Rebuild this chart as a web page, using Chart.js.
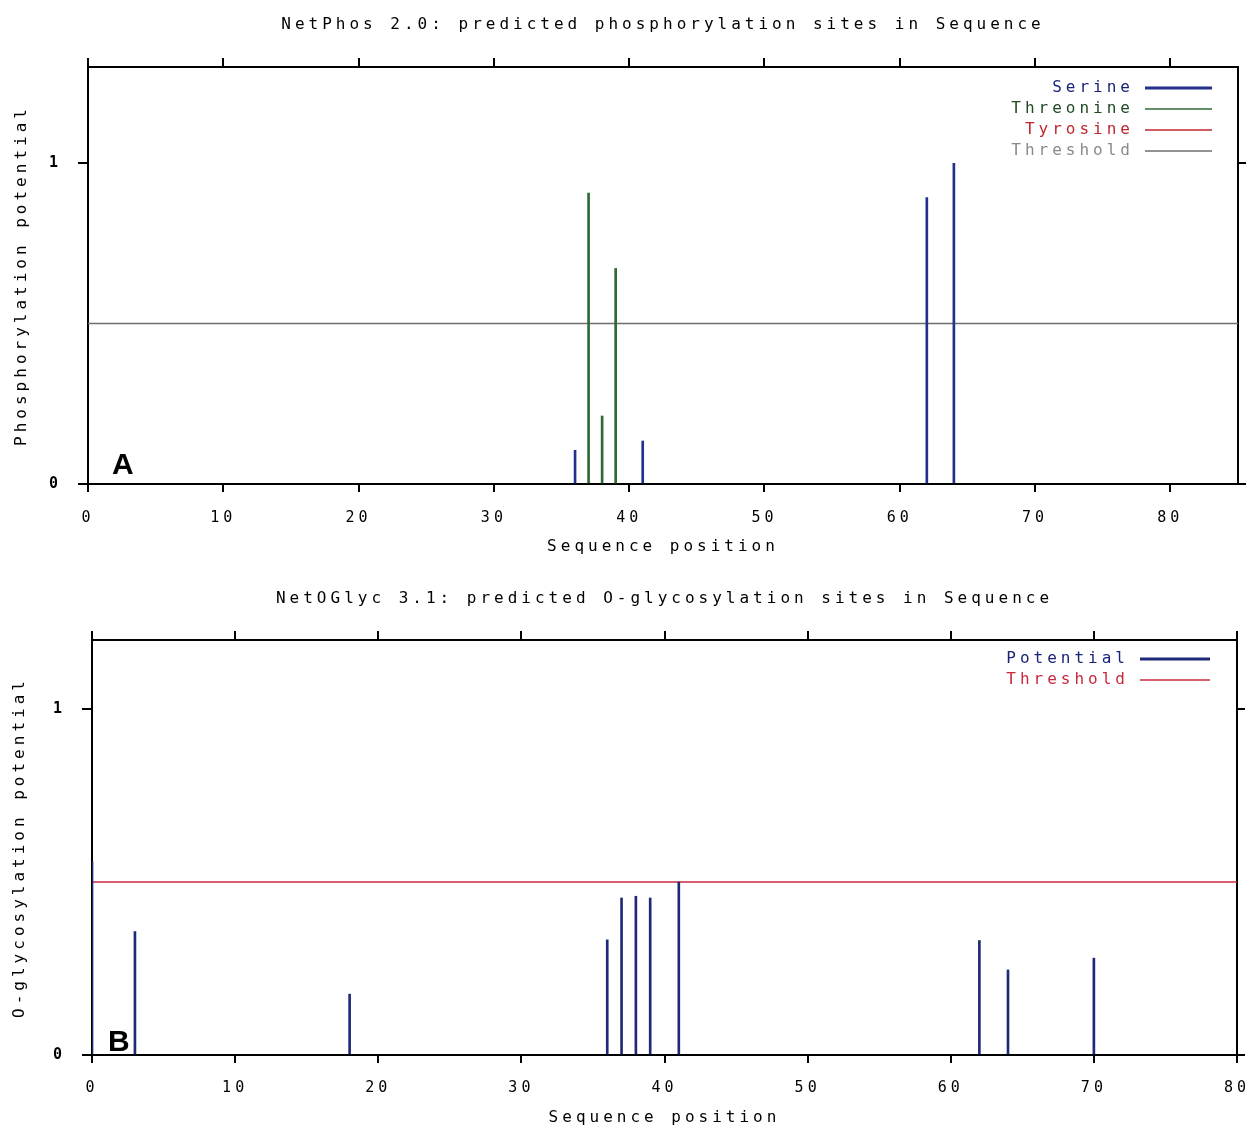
<!DOCTYPE html>
<html>
<head>
<meta charset="utf-8">
<title>NetPhos 2.0 / NetOGlyc 3.1</title>
<script src="https://cdn.jsdelivr.net/npm/chart.js@4.4.0/dist/chart.umd.min.js"></script>
<style>
  html, body { margin: 0; padding: 0; background: #fff; }
  .panel { position: relative; width: 1250px; }
</style>
</head>
<body>
<div class="panel" style="height:570px"><canvas id="phosChart"></canvas></div>
<div class="panel" style="height:559px"><canvas id="glycChart"></canvas></div>

<script>
const FONT = 'DejaVu Sans Mono';

// A - NetPhos 2.0
const phosTitle = 'NetPhos 2.0: predicted phosphorylation sites in Sequence';
const phosYTitle = 'Phosphorylation potential';
const serinePos = [36, 41, 62, 64];
const serineVal = [0.105, 0.134, 0.893, 1.0];
const threoninePos = [37, 38, 39];
const threonineVal = [0.907, 0.212, 0.672];
const tyrosinePos = [];
const tyrosineVal = [];
const phosThreshold = 0.5;
const phosLength = 85;
const phosXTicks = [0, 10, 20, 30, 40, 50, 60, 70, 80];
const phosYTicks = [0, 1];

// B - NetOGlyc 3.1
const glycTitle = 'NetOGlyc 3.1: predicted O-glycosylation sites in Sequence';
const glycYTitle = 'O-glycosylation potential';
const glycPos = [0, 3, 18, 36, 37, 38, 39, 41, 62, 64, 70];
const glycVal = [0.56, 0.357, 0.176, 0.333, 0.454, 0.459, 0.454, 0.5, 0.331, 0.246, 0.28];
const glycThreshold = 0.5;
const glycLength = 80;
const glycXTicks = [0, 10, 20, 30, 40, 50, 60, 70, 80];
const glycYTicks = [0, 1];

const xTitle = 'Sequence position';

function pts(pos, val) {
    return pos.map((p, i) => ({ x: p, y: val[i] }));
}

function sites(label, pos, val, color, lineW) {
    return {
        type: 'bar', label: label, data: pts(pos, val),
        backgroundColor: color, borderWidth: 0, barThickness: 2,
        grouped: false, order: 1, legendColor: color, legendWidth: lineW
    };
}

function threshold(label, value, len, color) {
    return {
        type: 'line', label: label, data: [{ x: 0, y: value }, { x: len, y: value }],
        borderColor: color, borderWidth: 1.5, pointRadius: 0, order: 2,
        legendColor: color, legendWidth: 1.5
    };
}

// the gnuplot-ish wide monospace look
const spacedText = {
    id: 'spacedText',
    beforeDraw(chart) {
        chart.ctx.letterSpacing = '4px';
    }
};

const sideLegend = {
    id: 'sideLegend',
    afterDraw(chart, args, opts) {
        const ctx = chart.ctx;
        const area = chart.chartArea;
        ctx.save();
        ctx.font = '16px ' + FONT;
        ctx.textAlign = 'right';
        ctx.textBaseline = 'middle';
        chart.data.datasets.forEach((ds, i) => {
            const y = area.top + opts.y0 + i * 21;
            ctx.fillStyle = opts.textColors[i];
            ctx.fillText(ds.label, area.right - opts.textRight, y);
            ctx.strokeStyle = ds.legendColor;
            ctx.lineWidth = ds.legendWidth;
            ctx.beginPath();
            ctx.moveTo(area.right - opts.lineFrom, y);
            ctx.lineTo(area.right - opts.lineTo, y);
            ctx.stroke();
        });
        ctx.restore();
    }
};

const panelTag = {
    id: 'panelTag',
    afterDraw(chart, args, opts) {
        const ctx = chart.ctx;
        ctx.save();
        ctx.letterSpacing = '0px';
        ctx.font = 'bold 30px "Liberation Sans"';
        ctx.fillStyle = '#000';
        ctx.textBaseline = 'alphabetic';
        ctx.fillText(opts.text, chart.chartArea.left + opts.dx, chart.chartArea.bottom - opts.dy);
        ctx.restore();
    }
};

function sitesChart(el, o) {
    const tickList = list => (s => { s.ticks = list.map(v => ({ value: v })); });
    const edge = { color: '#000', width: 2 };
    const marks = len => ({ drawOnChartArea: false, offset: false, color: '#000', lineWidth: 2, tickLength: len });
    return new Chart(el, {
        type: 'bar',
        data: { datasets: o.datasets },
        options: {
            responsive: true,
            maintainAspectRatio: false,
            animation: false,
            layout: { padding: 0 },
            plugins: {
                legend: { display: false },
                tooltip: { enabled: false },
                sideLegend: o.legend,
                panelTag: o.tag
            },
            scales: {
                x: {
                    type: 'linear', position: 'bottom', min: 0, max: o.xMax, offset: false,
                    afterBuildTicks: tickList(o.xTicks),
                    afterFit: s => { s.height = o.bottomH; s.paddingLeft = 0; s.paddingRight = 0; },
                    grid: marks(8), border: edge,
                    ticks: { color: '#000', font: { family: FONT, size: 15 }, padding: o.xTickPad, maxRotation: 0 },
                    title: { display: true, text: xTitle, color: '#000',
                             font: { family: FONT, size: 16, lineHeight: 1.2 }, padding: { top: 0, bottom: o.xTitlePad } }
                },
                xTop: {
                    type: 'linear', position: 'top', min: 0, max: o.xMax, offset: false,
                    afterBuildTicks: tickList(o.xTicks),
                    afterFit: s => { s.height = o.topH; s.paddingLeft = 0; s.paddingRight = 0; },
                    grid: marks(9), border: edge,
                    ticks: { display: false },
                    title: { display: true, text: o.title, color: '#000',
                             font: { family: FONT, size: 16, lineHeight: 1.2 }, padding: { top: o.titlePad, bottom: 0 } }
                },
                y: {
                    type: 'linear', position: 'left', min: 0, max: o.yMax,
                    afterBuildTicks: tickList(o.yTicks),
                    afterFit: s => { s.width = o.leftW; },
                    grid: marks(10), border: edge,
                    ticks: { color: '#000', font: { family: FONT, size: 15, weight: 'bold' }, padding: 16 },
                    title: { display: true, text: o.yTitle, color: '#000',
                             font: { family: FONT, size: 16, lineHeight: 1.2 }, padding: { top: o.yTitlePad, bottom: 0 } }
                },
                yRight: {
                    type: 'linear', position: 'right', min: 0, max: o.yMax,
                    afterBuildTicks: tickList(o.yTicks),
                    afterFit: s => { s.width = o.rightW; },
                    grid: marks(8), border: edge,
                    ticks: { display: false }
                }
            }
        },
        plugins: [spacedText, sideLegend, panelTag]
    });
}

sitesChart(document.getElementById('phosChart'), {
    datasets: [
        sites('Serine', serinePos, serineVal, '#24308c', 3),
        sites('Threonine', threoninePos, threonineVal, '#2e6a34', 1.5),
        sites('Tyrosine', tyrosinePos, tyrosineVal, '#c0262e', 1.5),
        threshold('Threshold', phosThreshold, phosLength, '#6e6e6e')
    ],
    title: phosTitle, yTitle: phosYTitle,
    xMax: phosLength, yMax: 1.3, xTicks: phosXTicks, yTicks: phosYTicks,
    topH: 67, bottomH: 86, leftW: 88, rightW: 12,
    titlePad: 15, xTickPad: 17, xTitlePad: 14, yTitlePad: 12,
    legend: { y0: 21, textRight: 104, lineFrom: 93, lineTo: 26,
              textColors: ['#1a2378', '#1f4a22', '#c0262e', '#8a8a8a'] },
    tag: { text: 'A', dx: 24, dy: 10 }
});

sitesChart(document.getElementById('glycChart'), {
    datasets: [
        sites('Potential', glycPos, glycVal, '#1e2a78', 3),
        threshold('Threshold', glycThreshold, glycLength, '#c8283c')
    ],
    title: glycTitle, yTitle: glycYTitle,
    xMax: glycLength, yMax: 1.2, xTicks: glycXTicks, yTicks: glycYTicks,
    topH: 70, bottomH: 74, leftW: 92, rightW: 13,
    titlePad: 19, xTickPad: 16, xTitlePad: 2, yTitlePad: 10,
    legend: { y0: 19, textRight: 108, lineFrom: 97, lineTo: 27,
              textColors: ['#1a2378', '#c8283c'] },
    tag: { text: 'B', dx: 16, dy: 4 }
});
</script>
</body>
</html>
